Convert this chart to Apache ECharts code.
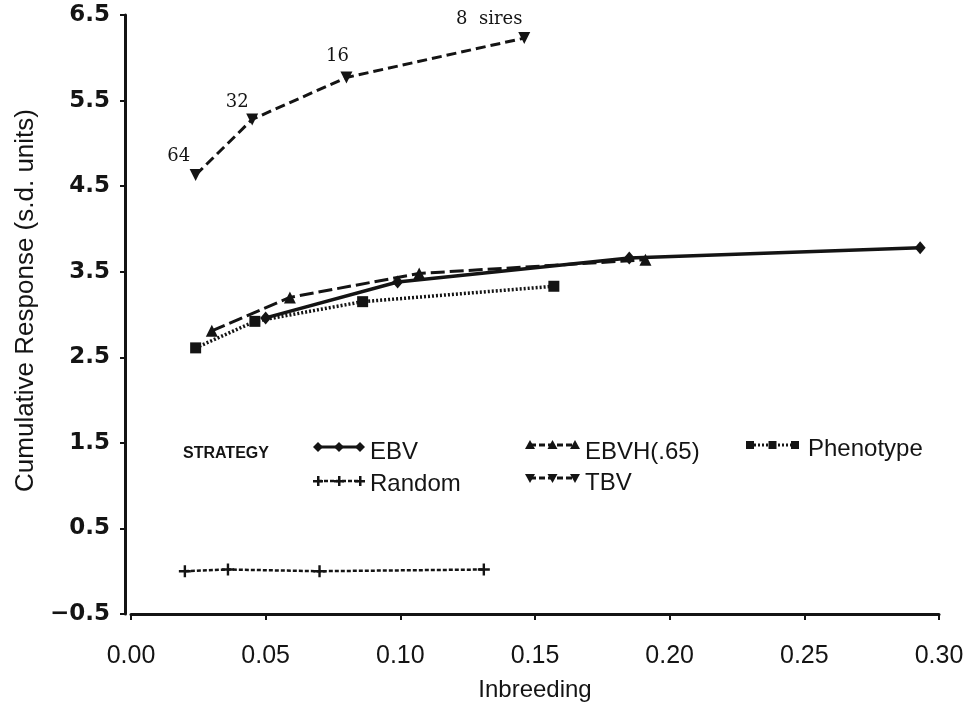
<!DOCTYPE html>
<html>
<head>
<meta charset="utf-8">
<script src="https://cdn.jsdelivr.net/npm/echarts@6/dist/echarts.min.js"></script>
<style>
html,body{margin:0;padding:0;background:#fff;}
#chart{width:977px;height:708px;}
</style>
</head>
<body>
<div id="chart"></div>
<script>
// ---- data ----
const ebvX = [0.050, 0.099, 0.185, 0.293];
const ebvY = [2.96, 3.38, 3.66, 3.78];
const ebvhX = [0.030, 0.059, 0.107, 0.191];
const ebvhY = [2.81, 3.20, 3.48, 3.64];
const phenoX = [0.024, 0.046, 0.086, 0.157];
const phenoY = [2.61, 2.92, 3.15, 3.33];
const tbvX = [0.024, 0.045, 0.080, 0.146];
const tbvY = [4.63, 5.28, 5.77, 6.23];
const tbvLabels = ['64', '32', '16', '8  sires'];
const randomX = [0.020, 0.036, 0.070, 0.131];
const randomY = [0.00, 0.02, 0.00, 0.02];
const seriesNames = ['EBV', 'EBVH(.65)', 'Phenotype', 'Random', 'TBV'];
const legendTitle = 'STRATEGY';
const xAxisName = 'Inbreeding';
const yAxisName = 'Cumulative Response (s.d. units)';

const INK = '#141414';
const plusPath = 'path://M4,0h2v4h4v2h-4v4h-2v-4h-4v-2h4z';
const tbvLabelOffsets = [[-17, 2], [-15, 4], [-9, 0], [-35, 2]];

function pairs(xs, ys) { return xs.map((x, i) => [x, ys[i]]); }

// legend key decorations (not data)
function keyShape(shape, cx, cy) {
  const st = { fill: INK };
  if (shape === 'diamond') return { type: 'polygon', shape: { points: [[cx, cy - 5], [cx + 5, cy], [cx, cy + 5], [cx - 5, cy]] }, style: st };
  if (shape === 'triangle') return { type: 'polygon', shape: { points: [[cx, cy - 5], [cx + 5, cy + 4], [cx - 5, cy + 4]] }, style: st };
  if (shape === 'invtri') return { type: 'polygon', shape: { points: [[cx - 5, cy - 4], [cx + 5, cy - 4], [cx, cy + 5]] }, style: st };
  if (shape === 'square') return { type: 'rect', shape: { x: cx - 4, y: cy - 4, width: 8, height: 8 }, style: st };
  return { type: 'group', children: [
    { type: 'rect', shape: { x: cx - 5, y: cy - 1, width: 10, height: 2.5 }, style: st },
    { type: 'rect', shape: { x: cx - 1, y: cy - 5, width: 2.5, height: 10 }, style: st }
  ] };
}
function legendKey(x1, x2, y, shape, dash, lw, label, tx, ty) {
  const els = [{ type: 'line', shape: { x1: x1, y1: y, x2: x2, y2: y }, style: { stroke: INK, lineWidth: lw, lineDash: dash } }];
  [x1, (x1 + x2) / 2, x2].forEach(cx => els.push(keyShape(shape, cx, y)));
  els.push({ type: 'text', x: tx, y: ty, style: { text: label, fill: INK, font: '24px "Liberation Sans", Arial, sans-serif', verticalAlign: 'middle' } });
  return els;
}

const graphics = [].concat(
  [{ type: 'text', x: 183, y: 454, style: { text: legendTitle, fill: INK, font: 'bold 16px "Liberation Sans", Arial, sans-serif', verticalAlign: 'middle' } }],
  legendKey(318, 360, 447, 'diamond', null, 3, seriesNames[0], 370, 452),
  legendKey(318, 360, 481, 'plus', [4, 2], 2.5, seriesNames[3], 370, 484),
  legendKey(530, 575, 445, 'triangle', [6, 3], 3, seriesNames[1], 585, 452),
  legendKey(530, 575, 478, 'invtri', [6, 3], 3, seriesNames[4], 585, 483),
  legendKey(750, 795, 445, 'square', [2, 2], 3, seriesNames[2], 808, 449)
);

const chart = echarts.init(document.getElementById('chart'), null, { renderer: 'canvas' });
chart.setOption({
  backgroundColor: '#ffffff',
  animation: false,
  grid: { left: 131, right: 38, top: 15, bottom: 94, containLabel: false },
  xAxis: {
    type: 'value', min: 0, max: 0.3, interval: 0.05,
    name: xAxisName, nameLocation: 'middle', nameGap: 64,
    nameTextStyle: { fontSize: 24, color: INK, fontFamily: '"Liberation Sans", Arial, sans-serif' },
    axisLine: { show: true, onZero: false, lineStyle: { color: INK, width: 3 } },
    axisTick: { show: true, length: 6, lineStyle: { color: INK, width: 2 } },
    axisLabel: { fontSize: 25, color: INK, margin: 30, fontFamily: '"Liberation Sans", Arial, sans-serif',
      formatter: v => v.toFixed(2) },
    splitLine: { show: false }
  },
  yAxis: {
    type: 'value', min: -0.5, max: 6.5, interval: 1, offset: 6,
    name: yAxisName, nameLocation: 'middle', nameGap: 84, nameRotate: 90,
    nameTextStyle: { fontSize: 26, color: INK, fontFamily: '"Liberation Sans", Arial, sans-serif', padding: [0, 0, 0, 28] },
    axisLine: { show: true, onZero: false, lineStyle: { color: INK, width: 3 } },
    axisTick: { show: true, length: 5, lineStyle: { color: INK, width: 2 } },
    axisLabel: { fontSize: 23, fontWeight: 'bold', color: INK, margin: 15, fontFamily: '"DejaVu Sans", sans-serif',
      formatter: v => (v < 0 ? '\u2212' + Math.abs(v).toFixed(1) : v.toFixed(1)) },
    splitLine: { show: false }
  },
  graphic: graphics,
  series: [
    { name: seriesNames[1], type: 'line', data: pairs(ebvhX, ebvhY), symbol: 'triangle', symbolSize: 12,
      lineStyle: { color: INK, width: 3, type: [14, 5] }, itemStyle: { color: INK }, z: 3 },
    { name: seriesNames[2], type: 'line', data: pairs(phenoX, phenoY), symbol: 'rect', symbolSize: 11,
      lineStyle: { color: INK, width: 3.5, type: [2, 2] }, itemStyle: { color: INK }, z: 3 },
    { name: seriesNames[0], type: 'line', data: pairs(ebvX, ebvY), symbol: 'diamond', symbolSize: [11, 13],
      lineStyle: { color: INK, width: 3.5, type: 'solid' }, itemStyle: { color: INK }, z: 4 },
    { name: seriesNames[3], type: 'line', data: pairs(randomX, randomY), symbol: plusPath, symbolSize: 12,
      lineStyle: { color: INK, width: 2.5, type: [4, 2] }, itemStyle: { color: INK }, z: 3 },
    { name: seriesNames[4], type: 'line', symbol: 'triangle', symbolRotate: 180, symbolSize: 12,
      data: pairs(tbvX, tbvY).map((p, i) => ({ value: p, label: { show: true, formatter: tbvLabels[i], offset: tbvLabelOffsets[i] } })),
      label: { show: true, position: 'top', distance: 6, fontSize: 18, color: INK, fontFamily: '"DejaVu Serif", "Liberation Serif", serif' },
      lineStyle: { color: INK, width: 3, type: [10, 5] }, itemStyle: { color: INK }, z: 3 }
  ]
});
</script>
</body>
</html>
